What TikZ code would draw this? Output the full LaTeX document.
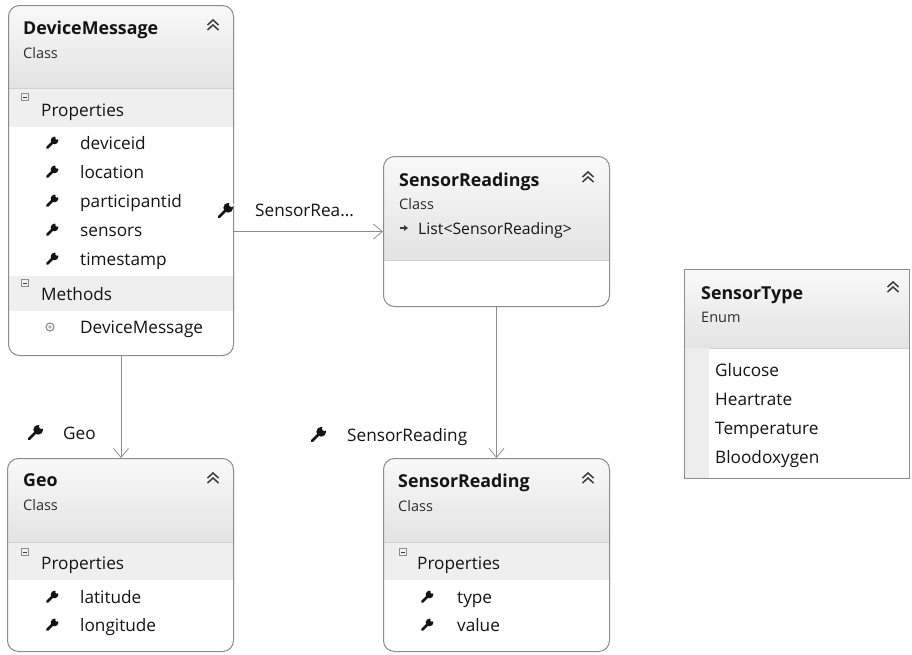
\documentclass[tikz,border=0pt]{standalone}
\usepackage{fontspec}
\setmainfont{Open Sans}
\usetikzlibrary{arrows.meta}

\definecolor{frame}{HTML}{8C8C8C}
\definecolor{hdtop}{HTML}{F9F9F9}
\definecolor{hdbot}{HTML}{E3E3E3}
\definecolor{band}{HTML}{EFEFEF}
\definecolor{sepline}{HTML}{D2D2D2}
\definecolor{wire}{HTML}{8E8E8E}
\definecolor{ink}{HTML}{141414}
\definecolor{iconink}{HTML}{3A3A3A}

% Filled background of a rounded class card: white body, shaded header
\newcommand{\cardshade}[5]{%
  \begin{scope}
    \clip[rounded corners=11pt] (#1,#2) rectangle (#3,#4);
    \fill[white] (#1,#2) rectangle (#3,#4);
    \shade[top color=hdtop, bottom color=hdbot] (#1,#2) rectangle (#3,#5);
    \draw[sepline, line width=0.8pt] (#1,#5) -- (#3,#5);
  \end{scope}}

\tikzset{
  x=1pt, y=-1pt,
  boxframe/.style={draw=frame, line width=1pt, rounded corners=11pt, anchor=north west,
    inner sep=0pt, fill=none},
  enumframe/.style={draw=frame, line width=1pt, anchor=north west, inner sep=0pt, fill=none},
  txt/.style={anchor=west, inner sep=0pt, text=ink, text height=0.72em, text depth=0pt,
    yshift=-2.5pt},
  title/.style={txt, font=\fontsize{17.8}{20}\selectfont\bfseries},
  kind/.style={txt, font=\fontsize{14.5}{17}\selectfont, text=ink!90},
  member/.style={txt, font=\fontsize{17.2}{20}\selectfont},
  smallmember/.style={txt, font=\fontsize{15.8}{18}\selectfont},
  conn/.style={draw=wire, line width=0.8pt, -{Straight Barb[length=9pt,width=15pt,line width=0.8pt]}},
  wrench/.pic={
    \draw[ink, line width=2.6pt, line cap=round] (-4.2,4.2) -- (1,-1);
    \fill[ink] (2.3,-2.3) circle (3.5pt);
    \fill[white] (4.6,-4.6) circle (1.7pt);
  },
  chevron/.pic={
    \draw[iconink, line width=1.5pt] (-5.5,0) -- (0,-5) -- (5.5,0);
    \draw[iconink, line width=1.5pt] (-5.5,5) -- (0,0) -- (5.5,5);
  },
  fold/.pic={
    \draw[frame, fill=white!95!black, line width=0.7pt] (-3.5,-3.5) rectangle (3.5,3.5);
    \draw[iconink, line width=0.8pt] (-2,0) -- (2,0);
  },
  methodicon/.pic={
    \draw[frame, line width=1.1pt] (0,0) circle (4pt);
    \fill[frame!70] (0,0) circle (1.8pt);
  },
  listicon/.pic={
    \draw[iconink, line width=1.2pt] (-4,0) -- (1,0);
    \fill[iconink] (4,0) -- (0,-3) -- (0,3) -- cycle;
  },
}

\begin{document}
\begin{tikzpicture}
\useasboundingbox (0,0) rectangle (912,654);
\fill[white] (0,0) rectangle (912,654);

% ---------- DeviceMessage ----------
\cardshade{8}{5}{233}{355}{88}
\fill[band] (8,89) rectangle (233,127);
\fill[band] (8,276) rectangle (233,311);
\node[boxframe, minimum width=225pt, minimum height=350pt] (dm) at (8,5) {};
\node[title] (dmtitle) at (23,28) {DeviceMessage};
\node[kind] (dmkind) at (23,52) {Class};
\pic at (213,25) {chevron};
\pic at (25,97) {fold};
\node[member] (dmprops) at (41,110) {Properties};
\pic[scale=1.1] at (52,143) {wrench};
\node[member] (dmdev) at (80,143) {deviceid};
\pic[scale=1.1] at (52,172) {wrench};
\node[member] (dmloc) at (80,172) {location};
\pic[scale=1.1] at (52,201) {wrench};
\node[member] (dmpart) at (80,201) {participantid};
\pic[scale=1.1] at (52,230) {wrench};
\node[member] (dmsens) at (80,230) {sensors};
\pic[scale=1.1] at (52,259) {wrench};
\node[member] (dmtime) at (80,259) {timestamp};
\pic at (25,283) {fold};
\node[member] (dmmeth) at (41,294) {Methods};
\pic at (50,327) {methodicon};
\node[member] (dmctor) at (80,327) {DeviceMessage};

% ---------- SensorReadings ----------
\cardshade{383}{156}{609}{306}{260}
\node[boxframe, minimum width=226pt, minimum height=150pt] (srs) at (383,156) {};
\node[title] (srstitle) at (399,180) {SensorReadings};
\node[kind] (srskind) at (399,203) {Class};
\pic at (588,177) {chevron};
\pic at (404,228) {listicon};
\node[smallmember] (srslist) at (418,228) {List<SensorReading>};

% ---------- SensorType ----------
\begin{scope}
  \fill[white] (684,269) rectangle (909,478);
  \shade[top color=hdtop, bottom color=hdbot] (684,269) rectangle (909,348);
  \fill[white!93!black] (684,348) rectangle (709,478);
  \draw[sepline, line width=0.8pt] (709,348) -- (909,348);
\end{scope}
\node[enumframe, minimum width=225pt, minimum height=209pt] (st) at (684,269) {};
\node[title] (sttitle) at (701,293) {SensorType};
\node[kind] (stkind) at (701,316) {Enum};
\pic at (893,287) {chevron};
\node[member] (stglu) at (715,370) {Glucose};
\node[member] (stheart) at (715,399) {Heartrate};
\node[member] (sttemp) at (715,428) {Temperature};
\node[member] (stblood) at (715,457) {Bloodoxygen};

% ---------- Geo ----------
\cardshade{7}{458}{233}{651}{542}
\fill[band] (7,543) rectangle (233,580);
\node[boxframe, minimum width=226pt, minimum height=193pt] (geo) at (7,458) {};
\node[title] (geotitle) at (23,480) {Geo};
\node[kind] (geokind) at (23,504) {Class};
\pic at (213,478) {chevron};
\pic at (25,552) {fold};
\node[member] (geoprops) at (41,563) {Properties};
\pic[scale=1.1] at (52,597) {wrench};
\node[member] (geolat) at (80,597) {latitude};
\pic[scale=1.1] at (52,625) {wrench};
\node[member] (geolon) at (80,625) {longitude};

% ---------- SensorReading ----------
\cardshade{383}{458}{609}{651}{542}
\fill[band] (383,543) rectangle (609,580);
\node[boxframe, minimum width=226pt, minimum height=193pt] (sr) at (383,458) {};
\node[title] (srtitle) at (398,481) {SensorReading};
\node[kind] (srkind) at (398,505) {Class};
\pic at (588,478) {chevron};
\pic at (403,552) {fold};
\node[member] (srprops) at (417,563) {Properties};
\pic[scale=1.1] at (427,597) {wrench};
\node[member] (srtype) at (457,597) {type};
\pic[scale=1.1] at (427,625) {wrench};
\node[member] (srval) at (457,625) {value};

% ---------- associations ----------
\draw[conn] (dm.east |- srs.west) -- (srs.west);
\draw[conn] (dm.south) -- (dm.south |- geo.north);
\draw[conn] (srs.south) -- (srs.south |- sr.north);

\pic[scale=1.4] at (225,211) {wrench};
\node[member] (lblsrs) at (255,210) {SensorRea...};
\pic[scale=1.4] at (35,433) {wrench};
\node[member] (lblgeo) at (63,433) {Geo};
\pic[scale=1.4] at (318,435) {wrench};
\node[member] (lblsr) at (347,435) {SensorReading};
\end{tikzpicture}
\end{document}
